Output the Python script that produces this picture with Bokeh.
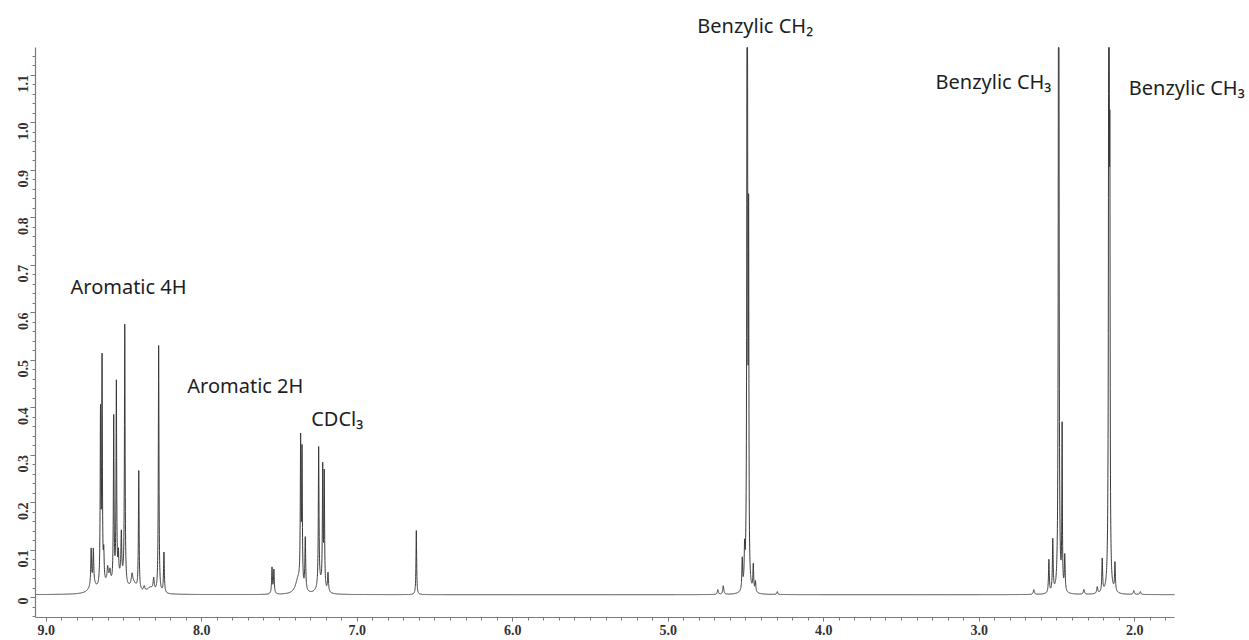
import math
import numpy as np
from bokeh.plotting import figure
from bokeh.models import Range1d, FixedTicker, Label
from bokeh.embed import file_html
from bokeh.resources import INLINE

# ---------------- data ----------------
x_tick_values = [9.0, 8.0, 7.0, 6.0, 5.0, 4.0, 3.0, 2.0]
x_tick_labels = ["9.0", "8.0", "7.0", "6.0", "5.0", "4.0", "3.0", "2.0"]
y_tick_values = [0.0, 0.1, 0.2, 0.3, 0.4, 0.5, 0.6, 0.7, 0.8, 0.9, 1.0, 1.1]
y_tick_labels = ["0", "0.1", "0.2", "0.3", "0.4", "0.5", "0.6", "0.7", "0.8", "0.9", "1.0", "1.1"]

# axis extents of the spectrum panel (ppm and intensity)
x_axis_span = (9.069, 1.744)
y_axis_span = (-0.042, 1.158)

# peak list (chemical shift ppm, height, line width ppm)
peak_ppm = [
    # aromatic 4H cluster
    8.711, 8.697, 8.651, 8.641, 8.630, 8.605, 8.590, 8.566, 8.549, 8.536, 8.517,
    8.495, 8.448, 8.405, 8.370, 8.309, 8.277, 8.243,
    # broad background under aromatic cluster
    8.700, 8.600, 8.520, 8.440, 8.330,
    # aromatic 2H + CDCl3
    7.548, 7.536, 7.380, 7.364, 7.355, 7.334, 7.248, 7.222, 7.212, 7.188, 7.240,
    6.620,
    # benzylic CH2
    4.681, 4.646, 4.524, 4.509, 4.492, 4.483, 4.453, 4.439, 4.299,
    # benzylic CH3 (1)
    2.649, 2.552, 2.527, 2.489, 2.467, 2.450, 2.327, 2.241,
    # benzylic CH3 (2)
    2.209, 2.166, 2.160, 2.127, 2.006, 1.964,
]
peak_height = [
    0.075, 0.070, 0.36, 0.47, 0.06, 0.025, 0.02, 0.35, 0.42, 0.05, 0.09,
    0.545, 0.02, 0.25, 0.010, 0.025, 0.52, 0.085,
    0.020, 0.025, 0.030, 0.020, 0.012,
    0.055, 0.050, 0.030, 0.30, 0.28, 0.11, 0.29, 0.25, 0.24, 0.040, 0.020,
    0.135,
    0.010, 0.018, 0.065, 0.075, 2.60, 0.72, 0.055, 0.022, 0.006,
    0.010, 0.070, 0.110, 2.60, 0.34, 0.075, 0.010, 0.014,
    0.070, 2.60, 0.76, 0.060, 0.008, 0.006,
]
peak_fwhm = [
    0.006, 0.006, 0.005, 0.005, 0.006, 0.008, 0.008, 0.005, 0.005, 0.006, 0.006,
    0.005, 0.010, 0.005, 0.010, 0.008, 0.005, 0.006,
    0.050, 0.050, 0.050, 0.050, 0.050,
    0.006, 0.006, 0.040, 0.005, 0.005, 0.006, 0.005, 0.005, 0.005, 0.007, 0.040,
    0.005,
    0.008, 0.008, 0.006, 0.006, 0.004, 0.004, 0.006, 0.006, 0.008,
    0.008, 0.006, 0.006, 0.004, 0.004, 0.006, 0.008, 0.008,
    0.006, 0.004, 0.004, 0.006, 0.008, 0.008,
]
baseline_level = 0.006

annotation_texts = ["Aromatic 4H", "Aromatic 2H", "CDCl\u2083",
                    "Benzylic CH\u2082", "Benzylic CH\u2083", "Benzylic CH\u2083"]
annotation_ppm = [8.844, 8.093, 7.296, 4.813, 3.281, 2.038]
annotation_int = [0.655, 0.446, 0.377, 1.204, 1.086, 1.074]

# ---------------- build spectrum from the peak list ----------------
lo, hi = min(x_axis_span), max(x_axis_span)
grid = np.union1d(np.arange(lo, hi, 0.0005), np.array(peak_ppm))
grid = grid[(grid >= lo) & (grid <= hi)]
spec = np.full_like(grid, baseline_level)
for c, h, w in zip(peak_ppm, peak_height, peak_fwhm):
    spec += h / (1.0 + (2.0 * (grid - c) / w) ** 2)
# peaks run off the top of the spectrum panel
spec_drawn = np.minimum(spec, y_axis_span[1])

# ---------------- figure ----------------
# frame covers the whole canvas right of / above the axes so that labels
# outside the spectrum panel stay visible; axes are bounded to the panel.
px_per_ppm = 155.5
px_per_unit = 475.0
left_px, bottom_px = 35, 23
W, H = 1249, 640
x_end = x_axis_span[0] - (W - left_px) / px_per_ppm
y_end = y_axis_span[0] + (H - bottom_px) / px_per_unit

p = figure(width=W, height=H, output_backend="svg", toolbar_location=None,
           x_range=Range1d(x_axis_span[0], x_end),
           y_range=Range1d(y_axis_span[0], y_end),
           min_border_left=left_px, min_border_right=0, min_border_top=0,
           min_border_bottom=bottom_px)
p.outline_line_color = None
p.xgrid.visible = False
p.ygrid.visible = False
p.background_fill_color = "white"
p.border_fill_color = "white"

p.line(grid, spec_drawn, line_color="#3a3a3a", line_width=1)

x_minor = [round(v, 2) for v in np.arange(1.8, 9.05, 0.1)]
y_minor = [round(v, 2) for v in np.arange(-0.04, 1.16, 0.02)]
p.xaxis.ticker = FixedTicker(ticks=x_tick_values, minor_ticks=x_minor)
p.yaxis.ticker = FixedTicker(ticks=y_tick_values, minor_ticks=y_minor)
p.xaxis.major_label_overrides = {v: s for v, s in zip(x_tick_values, x_tick_labels)}
p.yaxis.major_label_overrides = {v: s for v, s in zip(y_tick_values, y_tick_labels)}
p.xaxis.bounds = (x_axis_span[1], x_axis_span[0])
p.yaxis.bounds = y_axis_span

for ax in (p.xaxis[0], p.yaxis[0]):
    ax.axis_line_color = "#7a7a7a"
    ax.axis_line_width = 1.2
    ax.major_tick_line_color = "#7a7a7a"
    ax.minor_tick_line_color = "#7a7a7a"
    ax.major_tick_in = 0
    ax.minor_tick_in = 0
    ax.major_tick_out = 5
    ax.minor_tick_out = 3
    ax.major_label_text_font = "Liberation Serif"
    ax.major_label_text_font_style = "bold"
    ax.major_label_text_font_size = "14px"
    ax.major_label_text_color = "#333333"
    ax.major_label_standoff = 3
p.xaxis.major_tick_out = 4
p.yaxis.major_label_orientation = math.pi / 2
p.yaxis.major_label_standoff = 7

for t, xv, yv in zip(annotation_texts, annotation_ppm, annotation_int):
    p.add_layout(Label(x=xv, y=yv, text=t, text_font="Noto Sans",
                       text_font_size="20px", text_color="#1e1e1e",
                       text_align="left", text_baseline="alphabetic"))

open("out.html", "w").write(file_html(p, INLINE))
